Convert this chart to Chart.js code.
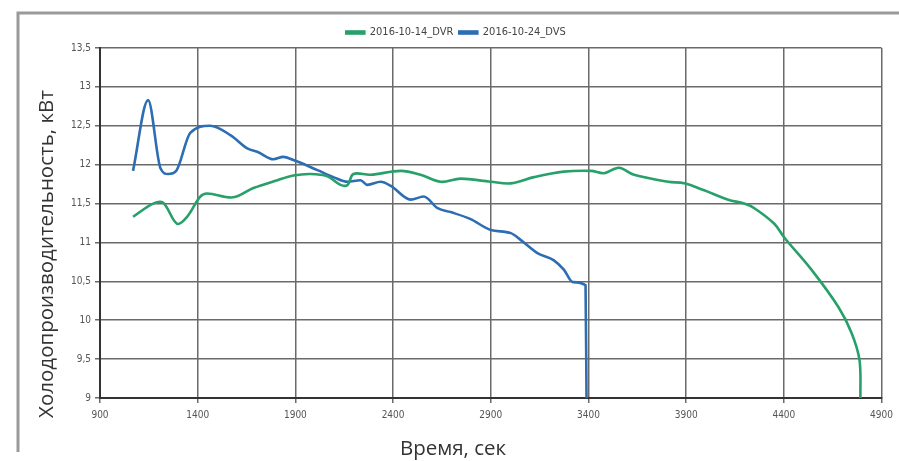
<!DOCTYPE html>
<html>
<head>
<meta charset="utf-8">
<script src="https://cdn.jsdelivr.net/npm/chart.js@4"></script>
<style>
  html, body { margin: 0; padding: 0; background: #fff; }
  #wrap { width: 899px; height: 461px; }
</style>
</head>
<body>
<div id="wrap"><canvas id="coolChart"></canvas></div>
<script>
// Data (time in seconds, capacity in kW)
const dvrTime = [1069, 1172, 1223, 1295, 1346, 1413, 1449, 1582, 1685, 1808, 1890, 1977, 2064, 2131, 2167, 2197, 2285, 2439, 2541, 2644, 2746, 2900, 3003, 3121, 3274, 3413, 3480, 3556, 3633, 3808, 3890, 3992, 4115, 4197, 4249, 4351, 4403, 4541, 4679, 4746, 4787, 4792];
const dvrPower = [11.33, 11.50, 11.51, 11.24, 11.33, 11.59, 11.63, 11.58, 11.70, 11.80, 11.86, 11.88, 11.85, 11.74, 11.74, 11.88, 11.87, 11.92, 11.87, 11.78, 11.82, 11.78, 11.76, 11.84, 11.91, 11.92, 11.89, 11.96, 11.87, 11.78, 11.76, 11.67, 11.55, 11.50, 11.44, 11.24, 11.06, 10.65, 10.17, 9.84, 9.49, 9.0];

const dvsTime = [1069, 1146, 1210, 1249, 1290, 1362, 1464, 1567, 1654, 1710, 1787, 1838, 1890, 2013, 2095, 2167, 2233, 2269, 2336, 2387, 2490, 2557, 2628, 2695, 2797, 2900, 3003, 3054, 3141, 3223, 3274, 3320, 3385, 3390];
const dvsPower = [11.92, 12.83, 11.95, 11.88, 11.92, 12.41, 12.50, 12.38, 12.21, 12.16, 12.07, 12.10, 12.06, 11.93, 11.84, 11.78, 11.80, 11.74, 11.78, 11.73, 11.55, 11.59, 11.44, 11.39, 11.30, 11.16, 11.12, 11.03, 10.86, 10.77, 10.65, 10.49, 10.45, 9.0];

const seriesNames = ["2016-10-14_DVR", "2016-10-24_DVS"];
const yTitle = "Холодопроизводительность, кВт";
const xTitle = "Время, сек";

function toPoints(xs, ys) {
    return xs.map((x, i) => ({ x: x, y: ys[i] }));
}

const tickFont = { family: "'Liberation Sans Narrow', 'DejaVu Sans Condensed', sans-serif", size: 10 };

// outer frame and both axis titles, placed like in the source image
const framePlugin = {
    id: "frame",
    beforeDraw(chart) {
        const ctx = chart.ctx;
        ctx.save();
        ctx.strokeStyle = "#9a9a9a";
        ctx.lineWidth = 3;
        ctx.beginPath();
        ctx.moveTo(899, 13);
        ctx.lineTo(18, 13);
        ctx.lineTo(18, 452);
        ctx.stroke();
        ctx.restore();
    },
    afterDraw(chart) {
        const ctx = chart.ctx;
        ctx.save();
        ctx.font = "20.5px 'Open Sans', sans-serif";
        ctx.fillStyle = "#333";
        ctx.textAlign = "center";
        ctx.textBaseline = "middle";
        ctx.fillText(xTitle, 453, 449);
        ctx.translate(47, 254);
        ctx.rotate(-Math.PI / 2);
        ctx.fillText(yTitle, 0, 0);
        ctx.restore();
    }
};

const coolChart = new Chart(document.getElementById("coolChart"), {
    type: "line",
    data: {
        datasets: [{
            label: seriesNames[0],
            data: toPoints(dvrTime, dvrPower),
            borderColor: "#27a06a",
            backgroundColor: "#27a06a",
            borderWidth: 2.6,
            pointRadius: 0,
            tension: 0.35
        }, {
            label: seriesNames[1],
            data: toPoints(dvsTime, dvsPower),
            borderColor: "#2c6db3",
            backgroundColor: "#2c6db3",
            borderWidth: 2.6,
            pointRadius: 0,
            cubicInterpolationMode: "monotone"
        }]
    },
    options: {
        responsive: true,
        maintainAspectRatio: false,
        animation: false,
        layout: { padding: { left: 30, right: 17, top: 21, bottom: 2 } },
        plugins: {
            legend: {
                position: "top",
                labels: {
                    boxWidth: 18,
                    boxHeight: 2,
                    padding: 6,
                    color: "#444",
                    font: { family: tickFont.family, size: 11 }
                }
            },
            tooltip: { enabled: false }
        },
        scales: {
            x: {
                type: "linear",
                min: 900,
                max: 4900,
                ticks: {
                    stepSize: 500,
                    color: "#555",
                    font: tickFont,
                    padding: 6,
                    maxRotation: 0,
                    callback: v => String(v)
                },
                grid: { color: "#6a6a6a", lineWidth: 1.5, tickLength: 5 },
                border: { color: "#333", width: 2 },
                afterFit(scale) { scale.height = 61; }
            },
            y: {
                min: 9,
                max: 13.5,
                ticks: {
                    stepSize: 0.5,
                    color: "#555",
                    font: tickFont,
                    padding: 4,
                    callback: v => String(v).replace(".", ",")
                },
                grid: { color: "#6a6a6a", lineWidth: 1.5, tickLength: 5 },
                border: { color: "#333", width: 2 },
                afterFit(scale) { scale.width = 70; }
            }
        }
    },
    plugins: [framePlugin]
});
</script>
</body>
</html>
